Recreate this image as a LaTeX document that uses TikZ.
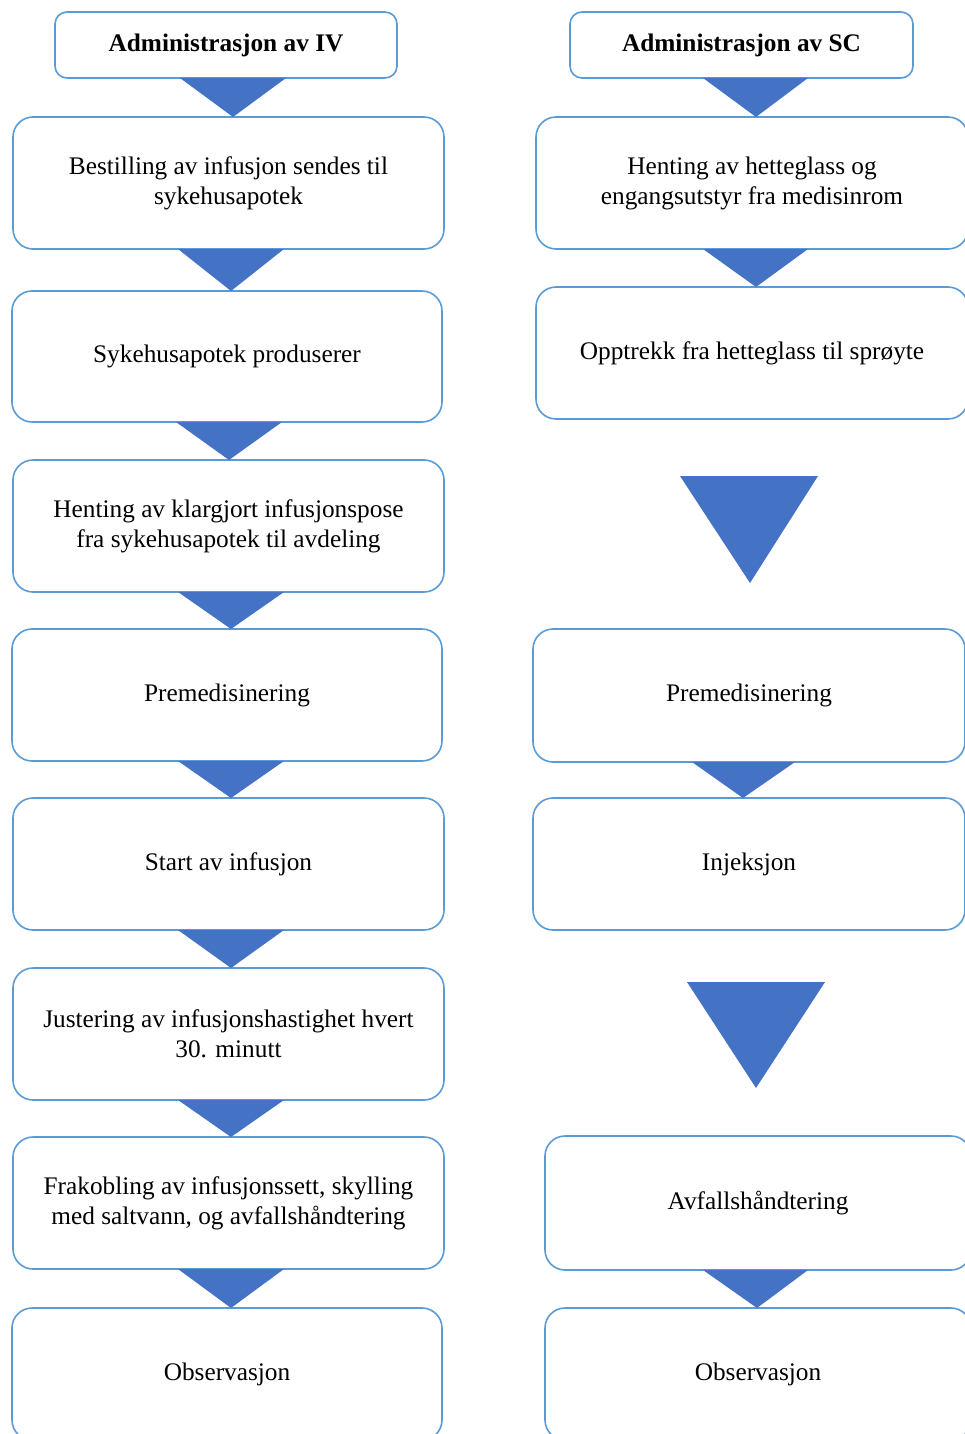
\documentclass[tikz,border=0pt]{standalone}
\usepackage{fontspec}
\setmainfont{Liberation Serif}
\definecolor{boxline}{HTML}{5B9BD5}
\definecolor{trifill}{HTML}{4472C4}
\begin{document}
\begin{tikzpicture}[x=1pt,y=-1pt,
  box/.style={draw=boxline, line width=1.6pt, fill=white, rounded corners=20pt,
    inner sep=0pt, outer sep=0pt, align=center,
    font=\fontsize{25.3}{30}\selectfont},
  head/.style={box, rounded corners=12pt, font=\fontsize{25.3}{30}\selectfont\bfseries},
  tri/.style={fill=trifill}]
\useasboundingbox (0,0) rectangle (965,1434);
\clip (0,0) rectangle (965,1434);
% left column
\node[head, minimum width=342pt, minimum height=66pt] (lh) at (226,45) {Administrasjon av IV};
\node[box, minimum width=431pt, minimum height=132pt] (l1) at (228.5,183) {Bestilling av infusjon sendes til\\sykehusapotek};
\node[box, minimum width=430pt, minimum height=131pt] (l2) at (227,356.5) {Sykehusapotek produserer};
\node[box, minimum width=431pt, minimum height=132pt] (l3) at (228.5,526) {Henting av klargjort infusjonspose\\fra sykehusapotek til avdeling};
\node[box, minimum width=430pt, minimum height=132pt] (l4) at (227,695) {Premedisinering};
\node[box, minimum width=431pt, minimum height=132pt] (l5) at (228.5,864) {Start av infusjon};
\node[box, minimum width=431pt, minimum height=132pt] (l6) at (228.5,1034) {Justering av infusjonshastighet hvert\\30. minutt};
\node[box, minimum width=431pt, minimum height=132pt] (l7) at (228.5,1203) {Frakobling av infusjonssett, skylling\\med saltvann, og avfallshåndtering};
\node[box, minimum width=430pt, minimum height=132pt] (l8) at (227,1374) {Observasjon};
% right column
\node[head, minimum width=343pt, minimum height=66pt] (rh) at (741.5,45) {Administrasjon av SC};
\node[box, minimum width=432pt, minimum height=132pt] (r1) at (752,183) {Henting av hetteglass og\\engangsutstyr fra medisinrom};
\node[box, minimum width=432pt, minimum height=132pt] (r2) at (752,353) {Opptrekk fra hetteglass til sprøyte};
\node[box, minimum width=432pt, minimum height=133pt] (r3) at (749,695.5) {Premedisinering};
\node[box, minimum width=432pt, minimum height=132pt] (r4) at (749,864) {Injeksjon};
\node[box, minimum width=426pt, minimum height=134pt] (r5) at (758,1203) {Avfallshåndtering};
\node[box, minimum width=426pt, minimum height=132pt] (r6) at (758,1374) {Observasjon};
% left connectors
\fill[tri] (180,0 |- lh.south) -- (286,0 |- lh.south) -- (233,0 |- l1.north) -- cycle;
\fill[tri] (178,0 |- l1.south) -- (284,0 |- l1.south) -- (231,0 |- l2.north) -- cycle;
\fill[tri] (176,0 |- l2.south) -- (282,0 |- l2.south) -- (229,0 |- l3.north) -- cycle;
\fill[tri] (178,0 |- l3.south) -- (284,0 |- l3.south) -- (231,0 |- l4.north) -- cycle;
\fill[tri] (178,0 |- l4.south) -- (284,0 |- l4.south) -- (231,0 |- l5.north) -- cycle;
\fill[tri] (178,0 |- l5.south) -- (284,0 |- l5.south) -- (231,0 |- l6.north) -- cycle;
\fill[tri] (178,0 |- l6.south) -- (284,0 |- l6.south) -- (231,0 |- l7.north) -- cycle;
\fill[tri] (178,0 |- l7.south) -- (284,0 |- l7.south) -- (231,0 |- l8.north) -- cycle;
% right connectors
\fill[tri] (703,0 |- rh.south) -- (808,0 |- rh.south) -- (756,0 |- r1.north) -- cycle;
\fill[tri] (703,0 |- r1.south) -- (808,0 |- r1.south) -- (756,0 |- r2.north) -- cycle;
\fill[tri] (680,476) -- (818,476) -- (750,583) -- cycle;
\fill[tri] (692,0 |- r3.south) -- (795,0 |- r3.south) -- (743,0 |- r4.north) -- cycle;
\fill[tri] (687,982) -- (825,982) -- (756,1088) -- cycle;
\fill[tri] (703,0 |- r5.south) -- (808,0 |- r5.south) -- (757,0 |- r6.north) -- cycle;
\end{tikzpicture}
\end{document}
